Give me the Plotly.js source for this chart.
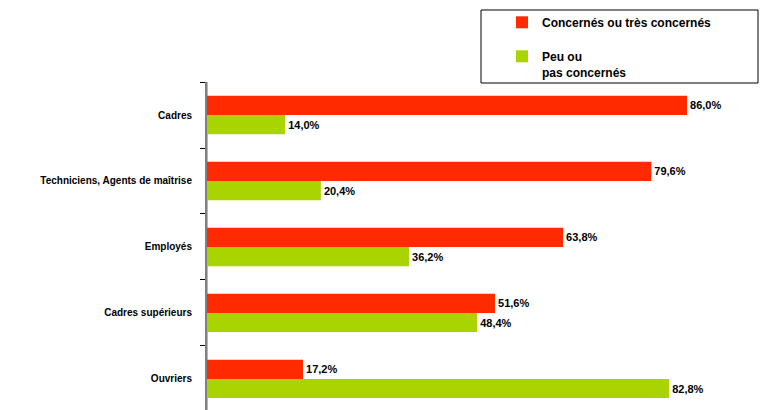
<!DOCTYPE html>
<html>
<head>
<meta charset="utf-8">
<script src="https://cdn.plot.ly/plotly-3.0.1.min.js"></script>
<style>html,body{margin:0;padding:0;background:#fff;}#chart{width:760px;height:410px;}</style>
</head>
<body>
<div id="chart"></div>
<script>
const categories = ['Cadres', 'Techniciens, Agents de maîtrise', 'Employés', 'Cadres supérieurs', 'Ouvriers'];
const concernes = [86.0, 79.6, 63.8, 51.6, 17.2];
const peuConcernes = [14.0, 20.4, 36.2, 48.4, 82.8];
const seriesNames = ['Concernés ou très concernés', 'Peu ou<br>pas concernés'];
const seriesColors = ['#ff2a00', '#aad400'];

const fmt = v => v.toFixed(1).replace('.', ',') + '%';
const textFont = {family: 'Liberation Sans, Arial, sans-serif', size: 11, color: '#000', weight: 'bold'};

const traces = [concernes, peuConcernes].map((vals, i) => ({
  type: 'bar',
  orientation: 'h',
  y: categories,
  x: vals,
  name: seriesNames[i],
  legendgroup: 'g' + i,
  marker: {color: seriesColors[i], line: {width: 0}},
  text: vals.map(fmt),
  textposition: 'outside',
  textfont: textFont,
  cliponaxis: false,
  hoverinfo: 'skip'
}));

const W = 760, H = 410, L = 207, R = 6, T = 82, B = 0;
const pw = W - L - R, ph = H - T - B;
const px = x => (x - L) / pw;
const py = y => 1 + (T - y) / ph;

const layout = {
  width: W, height: H,
  margin: {l: L, r: R, t: T, b: B, pad: 0},
  paper_bgcolor: '#fff', plot_bgcolor: '#fff',
  barmode: 'group', bargap: 0.42, bargroupgap: 0,
  font: {family: 'Liberation Sans, Arial, sans-serif', color: '#000'},
  xaxis: {range: [0, 98], showgrid: false, showticklabels: false, ticks: '',
          zeroline: true, zerolinecolor: '#f4a090', zerolinewidth: 1, showline: false, fixedrange: true},
  yaxis: {type: 'category', categoryorder: 'array', categoryarray: categories,
          range: [4.47, -0.5], showline: true, linecolor: '#808080', linewidth: 2,
          ticks: 'outside', tickson: 'boundaries', ticklen: 5, tickcolor: '#000', tickwidth: 1,
          ticklabelstandoff: 11, showgrid: false, zeroline: false,
          tickfont: {family: 'Liberation Sans, Arial, sans-serif', size: 10, color: '#000', weight: 'bold'}},
  showlegend: true,
  legend: {x: px(502), xanchor: 'left', y: py(8), yanchor: 'top', orientation: 'v',
           traceorder: 'grouped', tracegroupgap: 15, valign: 'top',
           bgcolor: 'rgba(0,0,0,0)', borderwidth: 0,
           font: {family: 'Liberation Sans, Arial, sans-serif', size: 12, color: '#000', weight: 'bold'}},
  shapes: [{type: 'rect', xref: 'paper', yref: 'paper', x0: px(481), x1: px(758), y0: py(83), y1: py(10),
            line: {color: '#000', width: 1}, fillcolor: 'rgba(0,0,0,0)'}]
};

Plotly.newPlot('chart', traces, layout, {displayModeBar: false, staticPlot: true});
</script>
</body>
</html>
